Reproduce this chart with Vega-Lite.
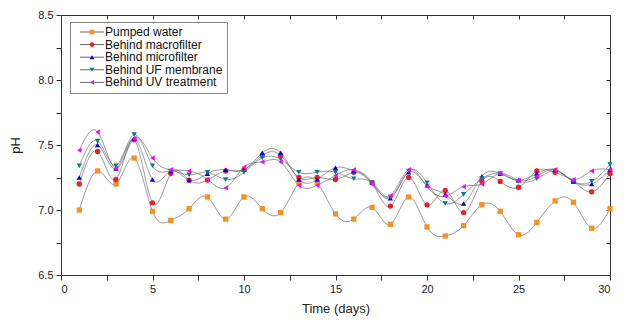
{
  "$schema": "https://vega.github.io/schema/vega-lite/v6.json",
  "width": 549,
  "height": 260,
  "autosize": "none",
  "padding": {"left": 61, "top": 15, "right": 14, "bottom": 45},
  "config": {
    "font": "Liberation Sans",
    "view": {"stroke": null},
    "axis": {"grid": false, "domainColor": "#333", "tickColor": "#333", "labelColor": "#222", "titleColor": "#222", "labelFontSize": 11, "titleFontSize": 13, "titleFontWeight": "normal"}
  },
  "data": {
    "values": [
      {"day": 1, "Pumped water": 7.00, "Behind macrofilter": 7.20, "Behind microfilter": 7.25, "Behind UF membrane": 7.34, "Behind UV treatment": 7.46},
      {"day": 2, "Pumped water": 7.30, "Behind macrofilter": 7.45, "Behind microfilter": 7.50, "Behind UF membrane": 7.53, "Behind UV treatment": 7.60},
      {"day": 3, "Pumped water": 7.20, "Behind macrofilter": 7.235, "Behind microfilter": 7.32, "Behind UF membrane": 7.34, "Behind UV treatment": 7.32},
      {"day": 4, "Pumped water": 7.40, "Behind macrofilter": 7.54, "Behind microfilter": 7.55, "Behind UF membrane": 7.58, "Behind UV treatment": 7.55},
      {"day": 5, "Pumped water": 6.99, "Behind macrofilter": 7.055, "Behind microfilter": 7.235, "Behind UF membrane": 7.34, "Behind UV treatment": 7.40},
      {"day": 6, "Pumped water": 6.92, "Behind macrofilter": 7.28, "Behind microfilter": 7.30, "Behind UF membrane": 7.30, "Behind UV treatment": 7.31},
      {"day": 7, "Pumped water": 7.01, "Behind macrofilter": 7.23, "Behind microfilter": 7.23, "Behind UF membrane": 7.27, "Behind UV treatment": 7.30},
      {"day": 8, "Pumped water": 7.10, "Behind macrofilter": 7.23, "Behind microfilter": 7.28, "Behind UF membrane": 7.29, "Behind UV treatment": 7.236},
      {"day": 9, "Pumped water": 6.93, "Behind macrofilter": 7.30, "Behind microfilter": 7.31, "Behind UF membrane": 7.235, "Behind UV treatment": 7.17},
      {"day": 10, "Pumped water": 7.10, "Behind macrofilter": 7.31, "Behind microfilter": 7.31, "Behind UF membrane": 7.29, "Behind UV treatment": 7.33},
      {"day": 11, "Pumped water": 7.01, "Behind macrofilter": 7.42, "Behind microfilter": 7.44, "Behind UF membrane": 7.40, "Behind UV treatment": 7.37},
      {"day": 12, "Pumped water": 6.98, "Behind macrofilter": 7.42, "Behind microfilter": 7.44, "Behind UF membrane": 7.39, "Behind UV treatment": 7.37},
      {"day": 13, "Pumped water": 7.21, "Behind macrofilter": 7.25, "Behind microfilter": 7.235, "Behind UF membrane": 7.29, "Behind UV treatment": 7.19},
      {"day": 14, "Pumped water": 7.21, "Behind macrofilter": 7.25, "Behind microfilter": 7.235, "Behind UF membrane": 7.29, "Behind UV treatment": 7.19},
      {"day": 15, "Pumped water": 6.97, "Behind macrofilter": 7.235, "Behind microfilter": 7.325, "Behind UF membrane": 7.29, "Behind UV treatment": 7.265},
      {"day": 16, "Pumped water": 6.93, "Behind macrofilter": 7.29, "Behind microfilter": 7.30, "Behind UF membrane": 7.24, "Behind UV treatment": 7.31},
      {"day": 17, "Pumped water": 7.02, "Behind macrofilter": 7.21, "Behind microfilter": 7.21, "Behind UF membrane": 7.21, "Behind UV treatment": 7.20},
      {"day": 18, "Pumped water": 6.89, "Behind macrofilter": 7.03, "Behind microfilter": 7.09, "Behind UF membrane": 7.10, "Behind UV treatment": 7.11},
      {"day": 19, "Pumped water": 7.10, "Behind macrofilter": 7.25, "Behind microfilter": 7.29, "Behind UF membrane": 7.30, "Behind UV treatment": 7.31},
      {"day": 20, "Pumped water": 6.87, "Behind macrofilter": 7.04, "Behind microfilter": 7.19, "Behind UF membrane": 7.21, "Behind UV treatment": 7.18},
      {"day": 21, "Pumped water": 6.80, "Behind macrofilter": 7.15, "Behind microfilter": 7.12, "Behind UF membrane": 7.05, "Behind UV treatment": 7.106},
      {"day": 22, "Pumped water": 6.88, "Behind macrofilter": 6.98, "Behind microfilter": 7.05, "Behind UF membrane": 7.12, "Behind UV treatment": 7.18},
      {"day": 23, "Pumped water": 7.04, "Behind macrofilter": 7.22, "Behind microfilter": 7.26, "Behind UF membrane": 7.24, "Behind UV treatment": 7.20},
      {"day": 24, "Pumped water": 6.99, "Behind macrofilter": 7.22, "Behind microfilter": 7.28, "Behind UF membrane": 7.28, "Behind UV treatment": 7.28},
      {"day": 25, "Pumped water": 6.81, "Behind macrofilter": 7.175, "Behind microfilter": 7.23, "Behind UF membrane": 7.22, "Behind UV treatment": 7.23},
      {"day": 26, "Pumped water": 6.905, "Behind macrofilter": 7.30, "Behind microfilter": 7.28, "Behind UF membrane": 7.24, "Behind UV treatment": 7.26},
      {"day": 27, "Pumped water": 7.07, "Behind macrofilter": 7.29, "Behind microfilter": 7.31, "Behind UF membrane": 7.30, "Behind UV treatment": 7.31},
      {"day": 28, "Pumped water": 7.06, "Behind macrofilter": 7.22, "Behind microfilter": 7.22, "Behind UF membrane": 7.22, "Behind UV treatment": 7.235},
      {"day": 29, "Pumped water": 6.86, "Behind macrofilter": 7.14, "Behind microfilter": 7.20, "Behind UF membrane": 7.22, "Behind UV treatment": 7.30},
      {"day": 30, "Pumped water": 7.01, "Behind macrofilter": 7.28, "Behind microfilter": 7.31, "Behind UF membrane": 7.35, "Behind UV treatment": 7.31}
    ]
  },
  "transform": [
    {"fold": ["Pumped water", "Behind macrofilter", "Behind microfilter", "Behind UF membrane", "Behind UV treatment"], "as": ["series", "pH"]}
  ],
  "layer": [
    {
      "mark": {"type": "line", "interpolate": "natural", "color": "#666", "strokeWidth": 0.7},
      "encoding": {
        "x": {"field": "day", "type": "quantitative", "scale": {"domain": [0, 30], "nice": false, "zero": false},
          "axis": {"orient": "bottom", "title": "Time (days)", "values": [0, 2.5, 5, 7.5, 10, 12.5, 15, 17.5, 20, 22.5, 25, 27.5, 30], "labelExpr": "datum.value % 5 == 0 ? datum.label : ''", "tickSize": 5, "labelPadding": 3, "titlePadding": 8}},
        "y": {"field": "pH", "type": "quantitative", "scale": {"domain": [6.5, 8.5], "nice": false, "zero": false},
          "axis": {"orient": "left", "title": "pH", "values": [6.5, 6.75, 7, 7.25, 7.5, 7.75, 8, 8.25, 8.5], "labelExpr": "(datum.value * 4) % 2 == 0 ? format(datum.value, '.1f') : ''", "tickSize": 5, "labelPadding": 3, "titlePadding": 15}},
        "strokeDash": {"field": "series", "type": "nominal",
          "sort": ["Pumped water", "Behind macrofilter", "Behind microfilter", "Behind UF membrane", "Behind UV treatment"],
          "scale": {"range": [[1, 0], [1, 0], [1, 0], [1, 0], [1, 0]]},
          "legend": {"orient": "none", "legendX": 9, "legendY": 7, "title": null, "symbolType": "M0,0H8", "symbolSize": 36, "symbolStrokeColor": "#666", "symbolFillColor": "transparent", "symbolStrokeWidth": 1, "labelFontSize": 12, "labelColor": "#111", "labelOffset": 19, "rowPadding": 0.6, "padding": 4, "strokeColor": "#888", "labelLimit": 300}}
      }
    },
    {
      "mark": {"type": "point", "filled": true, "size": 28, "opacity": 1},
      "encoding": {
        "x": {"field": "day", "type": "quantitative",
          "axis": {"orient": "top", "title": null, "labels": false, "values": [0, 2.5, 5, 7.5, 10, 12.5, 15, 17.5, 20, 22.5, 25, 27.5, 30], "tickSize": -4}},
        "y": {"field": "pH", "type": "quantitative",
          "axis": {"orient": "right", "title": null, "labels": false, "values": [6.5, 6.75, 7, 7.25, 7.5, 7.75, 8, 8.25, 8.5], "tickSize": -4}},
        "color": {"field": "series", "type": "nominal",
          "scale": {"domain": ["Pumped water", "Behind macrofilter", "Behind microfilter", "Behind UF membrane", "Behind UV treatment"], "range": ["#F7901E", "#EE1C25", "#0000FF", "#008080", "#FF00FF"]},
          "legend": {"orient": "none", "legendX": 21, "legendY": 7, "title": null, "symbolSize": 22, "labelFontSize": 12, "labelExpr": "''", "labelOffset": 5, "rowPadding": 0.6, "padding": 4, "symbolStrokeWidth": 0}},
        "shape": {"field": "series", "type": "nominal",
          "scale": {"domain": ["Pumped water", "Behind macrofilter", "Behind microfilter", "Behind UF membrane", "Behind UV treatment"], "range": ["square", "circle", "triangle-up", "triangle-down", "triangle-left"]}}
      }
    }
  ],
  "resolve": {"axis": {"x": "independent", "y": "independent"}}
}
